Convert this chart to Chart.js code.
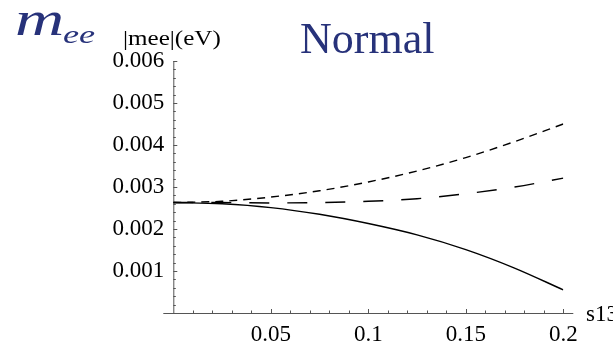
<!DOCTYPE html>
<html><head><meta charset="utf-8">
<script src="https://cdn.jsdelivr.net/npm/chart.js@4/dist/chart.umd.min.js"></script>
<style>html,body{margin:0;padding:0;background:#fff}#wrap{width:613px;height:346px;position:relative}</style>
</head><body><div id="wrap"><canvas id="c" width="613" height="346"></canvas></div>
<script>
// ---- data ----
const s13 = [0, 0.025, 0.05, 0.075, 0.1, 0.125, 0.15, 0.175, 0.2];
const meeSolid     = [0.00263, 0.00260, 0.00251, 0.00235, 0.00213, 0.00186, 0.00151, 0.00107, 0.00055];
const meeLongDash  = [0.00263, 0.00263, 0.00262, 0.00263, 0.00266, 0.00272, 0.00284, 0.00300, 0.00321];
const meeShortDash = [0.00263, 0.00266, 0.00276, 0.00291, 0.00312, 0.00338, 0.00370, 0.00408, 0.00450];
const xTickValues = [0.05, 0.1, 0.15, 0.2];
const xTickLabels = ['0.05', '0.1', '0.15', '0.2'];
const yTickValues = [0.001, 0.002, 0.003, 0.004, 0.005, 0.006];
const yTickLabels = ['0.001', '0.002', '0.003', '0.004', '0.005', '0.006'];
const titleText = 'Normal';
const yAxisLabel = '|mee|(eV)';
const xAxisLabel = 's13';

const SERIF = '"Liberation Serif", "Times New Roman", Tinos, "DejaVu Serif", serif';
const pts = arr => s13.map((x, i) => ({x: x, y: arr[i]}));
const tickFont = {family: SERIF, size: 23};

const axesPlugin = {
  id: 'axesPlugin',
  beforeDatasetsDraw(chart) {
    const ctx = chart.ctx, xs = chart.scales.x, ys = chart.scales.y;
    const x0 = xs.getPixelForValue(0), y0 = ys.getPixelForValue(0);
    ctx.save();
    ctx.strokeStyle = '#555';
    ctx.lineWidth = 1;
    ctx.beginPath();
    ctx.moveTo(x0 - 10, y0 + 0.5); ctx.lineTo(xs.getPixelForValue(0.2) + 10, y0 + 0.5);
    ctx.moveTo(x0 + 0.5, y0); ctx.lineTo(x0 + 0.5, ys.getPixelForValue(0.006));
    for (let k = 1; k <= 20; k++) {
      const px = Math.round(xs.getPixelForValue(k * 0.01)) + 0.5;
      const len = (k % 5 === 0) ? 4 : 2.5;
      ctx.moveTo(px, y0); ctx.lineTo(px, y0 - len);
    }
    for (let k = 1; k <= 30; k++) {
      const py = Math.round(ys.getPixelForValue(k * 0.0002)) + 0.5;
      const len = (k % 5 === 0) ? 4 : 2.5;
      ctx.moveTo(x0, py); ctx.lineTo(x0 + len, py);
    }
    ctx.stroke();
    ctx.restore();
  },
  afterDraw(chart) {
    const ctx = chart.ctx;
    ctx.save();
    ctx.textBaseline = 'alphabetic';
    ctx.textAlign = 'left';
    ctx.fillStyle = '#27327a';
    ctx.save();
    ctx.translate(15, 35); ctx.scale(1.42, 1);
    ctx.font = 'italic 48px ' + SERIF;
    ctx.fillText('m', 0, 0);
    ctx.restore();
    ctx.save();
    ctx.translate(63, 43); ctx.scale(1.45, 1);
    ctx.font = 'italic 25px ' + SERIF;
    ctx.fillText('ee', 0, 0);
    ctx.restore();
    ctx.font = '44px ' + SERIF;
    ctx.fillText(titleText, 300, 53);
    ctx.fillStyle = '#000';
    ctx.save();
    ctx.translate(123, 45); ctx.scale(1.14, 1);
    ctx.font = '22px ' + SERIF;
    ctx.fillText(yAxisLabel, 0, 0);
    ctx.restore();
    ctx.font = '23px ' + SERIF;
    ctx.fillText(xAxisLabel, 586, 321);
    ctx.restore();
  }
};

function build() {
  new Chart(document.getElementById('c'), {
    type: 'line',
    data: {
      datasets: [
        {data: pts(meeSolid), borderColor: '#000', borderWidth: 1.4, pointRadius: 0, fill: false, cubicInterpolationMode: 'monotone'},
        {data: pts(meeLongDash), borderColor: '#000', borderWidth: 1.4, borderDash: [20, 18], pointRadius: 0, fill: false, cubicInterpolationMode: 'monotone'},
        {data: pts(meeShortDash), borderColor: '#000', borderWidth: 1.4, borderDash: [8, 6], pointRadius: 0, fill: false, cubicInterpolationMode: 'monotone'}
      ]
    },
    options: {
      responsive: false,
      animation: false,
      devicePixelRatio: 1,
      layout: {padding: {left: 0, top: 61, right: 49.7, bottom: 0}},
      plugins: {legend: {display: false}, tooltip: {enabled: false}, title: {display: false}},
      scales: {
        x: {
          type: 'linear', min: 0, max: 0.2,
          grid: {display: false, drawTicks: false},
          border: {display: false},
          afterBuildTicks: s => { s.ticks = xTickValues.map(v => ({value: v})); },
          afterFit: s => { s.height = 33; },
          ticks: {padding: 8, color: '#000', font: tickFont, maxRotation: 0, autoSkip: false,
            callback: (v, i) => xTickLabels[i]}
        },
        y: {
          type: 'linear', min: 0, max: 0.006,
          grid: {display: false, drawTicks: false},
          border: {display: false},
          afterBuildTicks: s => { s.ticks = yTickValues.map(v => ({value: v})); },
          afterFit: s => { s.width = 173.3; },
          ticks: {padding: 9, color: '#000', font: tickFont, autoSkip: false,
            callback: (v, i) => yTickLabels[i]}
        }
      }
    },
    plugins: [axesPlugin]
  });
}
const loads = ['22px', '23px', '44px', 'italic 25px', 'italic 48px'].map(f => document.fonts.load(f + ' "Liberation Serif"').catch(() => null));
Promise.all(loads).then(build, build);
</script></body></html>
